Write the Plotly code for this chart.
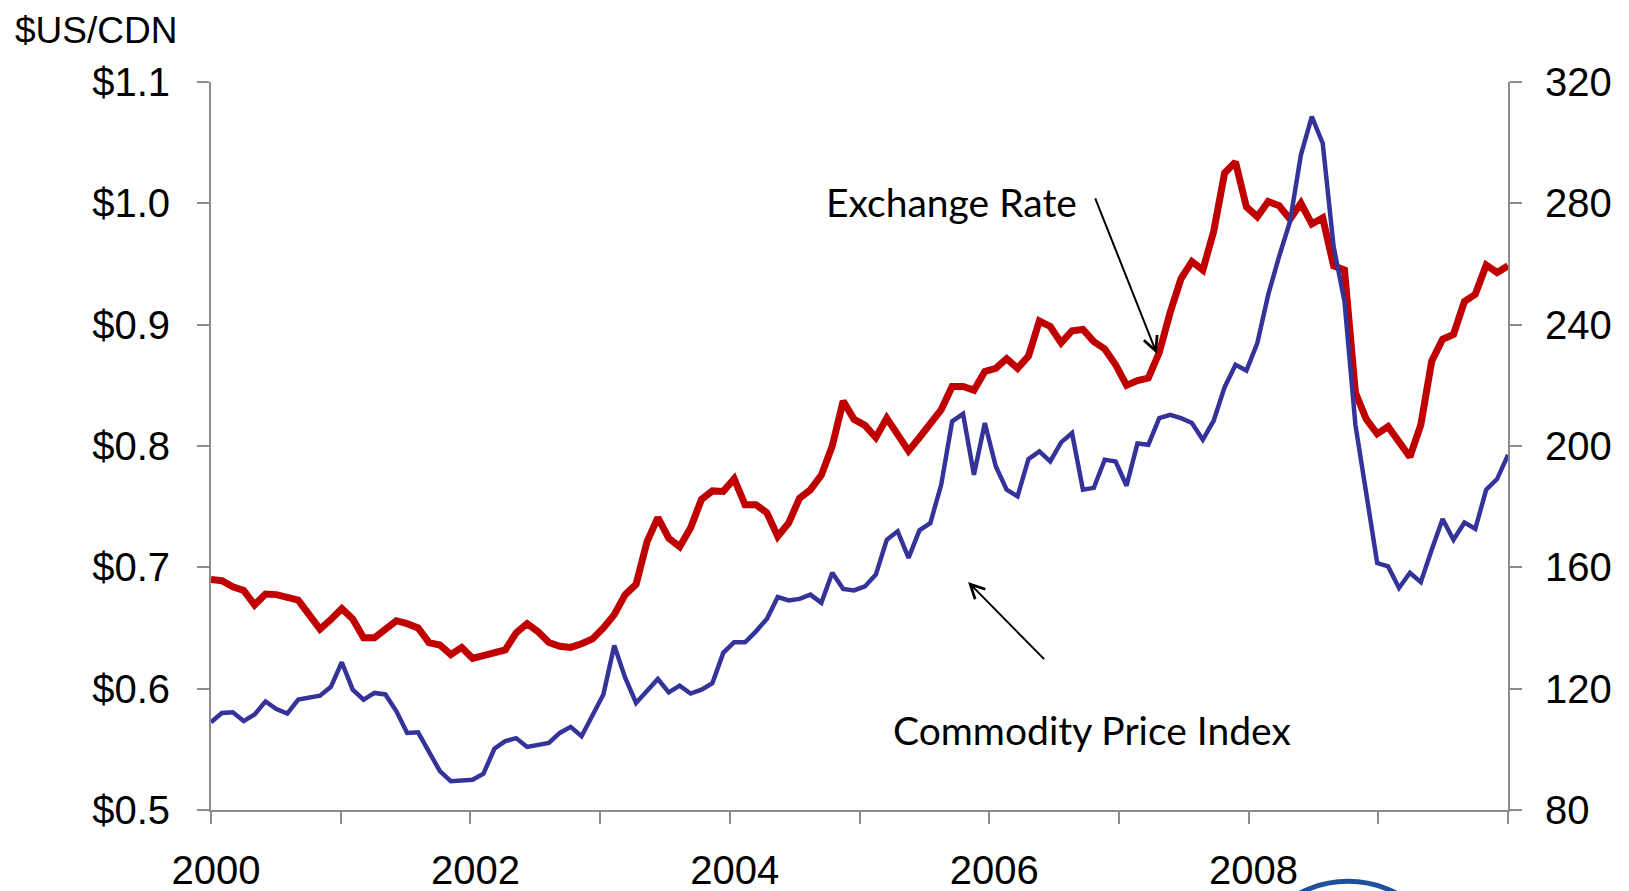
import plotly.graph_objects as go

# Monthly data, Jan 2000 - Dec 2009 (120 months)
exchange_rate = [
    0.690, 0.689, 0.684, 0.681, 0.669, 0.678, 0.6775, 0.675, 0.673, 0.661, 0.649, 0.657,
    0.666, 0.6575, 0.642, 0.642, 0.649, 0.656, 0.6536, 0.650, 0.638, 0.636, 0.628, 0.634,
    0.625, 0.627, 0.630, 0.632, 0.646, 0.6536, 0.647, 0.638, 0.635, 0.634, 0.637, 0.641,
    0.650, 0.661, 0.6775, 0.686, 0.721, 0.741, 0.724, 0.717, 0.7325, 0.756, 0.763, 0.7626,
    0.773, 0.7516, 0.7516, 0.745, 0.7255, 0.7366, 0.757, 0.764, 0.776, 0.800, 0.837, 0.822,
    0.817, 0.807, 0.823, 0.809, 0.796, 0.807, 0.8175, 0.830, 0.849, 0.849, 0.846, 0.8615,
    0.864, 0.872, 0.864, 0.874, 0.903, 0.8985, 0.885, 0.895, 0.896, 0.886, 0.880, 0.867,
    0.850, 0.854, 0.856, 0.877, 0.910, 0.938, 0.952, 0.945, 0.977, 1.025, 1.034, 0.997,
    0.989, 1.0015, 0.998, 0.987, 1.000, 0.983, 0.988, 0.9485, 0.945, 0.844, 0.822, 0.810,
    0.816, 0.8025, 0.791, 0.8175, 0.870, 0.888, 0.892, 0.919, 0.925, 0.949, 0.943, 0.9485,
]

commodity_index = [
    108.9, 112.0, 112.2, 109.3, 111.5, 115.8, 113.3, 111.8, 116.4, 117.0, 117.7, 120.6,
    128.7, 119.7, 116.4, 118.6, 118.1, 112.6, 105.4, 105.6, 99.0, 92.8, 89.5, 89.8,
    90.0, 92.0, 100.2, 102.7, 103.7, 100.8, 101.5, 102.1, 105.4, 107.4, 104.3, 111.5,
    118.1, 134.2, 123.6, 115.3, 119.1, 123.2, 118.8, 121.0, 118.4, 119.7, 121.8, 131.8,
    135.3, 135.3, 138.9, 143.0, 150.2, 149.1, 149.6, 151.0, 148.3, 158.2, 152.9, 152.4,
    153.7, 157.6, 169.1, 171.9, 163.1, 172.2, 174.6, 187.3, 208.1, 210.6, 190.5, 207.6,
    193.3, 185.6, 183.4, 195.7, 198.2, 194.9, 201.2, 204.3, 185.6, 186.2, 195.5, 194.9,
    186.9, 200.8, 200.4, 209.2, 210.3, 209.2, 207.6, 202.1, 208.4, 219.4, 226.8, 224.9,
    233.9, 249.9, 262.5, 274.0, 296.0, 308.6, 299.8, 265.8, 247.6, 207.0, 184.3, 161.4,
    160.3, 153.2, 158.2, 155.1, 165.8, 175.9, 169.1, 174.8, 172.7, 185.6, 189.1, 197.1,
]

year_ticks = list(range(2000, 2011))
year_labels = ["2000", "", "2002", "", "2004", "", "2006", "", "2008", "", ""]
left_ticks = [0.5, 0.6, 0.7, 0.8, 0.9, 1.0, 1.1]
right_ticks = [80, 120, 160, 200, 240, 280, 320]

n = len(exchange_rate)
x_vals = [2000 + i * 10 / (n - 1) for i in range(n)]

AXIS_GREY = "#8c8c8c"
TICK_FONT = dict(family="Liberation Sans, Arial, sans-serif", size=40, color="#000000")
NOTE_FONT = dict(family="Lato, Carlito, Calibri, sans-serif", size=39, color="#000000")

fig = go.Figure()
fig.add_trace(go.Scatter(
    x=x_vals, y=exchange_rate, mode="lines", name="Exchange Rate",
    line=dict(color="#c00000", width=7), yaxis="y", hoverinfo="skip",
))
fig.add_trace(go.Scatter(
    x=x_vals, y=commodity_index, mode="lines", name="Commodity Price Index",
    line=dict(color="#333399", width=4.5), yaxis="y2", hoverinfo="skip",
))

axis_common = dict(
    showline=True, linecolor=AXIS_GREY, linewidth=2, showgrid=False, zeroline=False,
    ticks="outside", ticklen=12, tickwidth=2, tickcolor=AXIS_GREY, tickfont=TICK_FONT,
    automargin=False,
)

# page body has an 8px margin, so the figure is 8px smaller than the window
fig.update_layout(
    width=1621, height=883,
    margin=dict(l=203, r=121, t=74, b=81, autoexpand=False),
    paper_bgcolor="white", plot_bgcolor="white",
    showlegend=False,
    xaxis=dict(range=[2000, 2010], tickmode="array", tickvals=year_ticks, ticktext=year_labels,
               ticklabelstandoff=12, ticklabelshift=5, **axis_common),
    yaxis=dict(range=[0.5, 1.1], tickmode="array", tickvals=left_ticks, tickformat="$.1f",
               ticklabelstandoff=19, **axis_common),
    yaxis2=dict(range=[80, 320], tickmode="array", tickvals=right_ticks, overlaying="y",
                side="right", ticklabelstandoff=15, **axis_common),
    annotations=[
        dict(text="$US/CDN", xref="paper", yref="paper", x=-0.153, y=1.071,
             xanchor="left", yanchor="middle", showarrow=False,
             font=dict(family="Liberation Sans, Arial, sans-serif", size=37, color="#000000")),
        dict(text="Exchange Rate", xref="x", yref="y", x=2005.711, y=1.0007,
             xanchor="center", yanchor="middle", showarrow=False, font=NOTE_FONT),
        dict(text="Commodity Price Index", xref="x", yref="y", x=2006.79, y=0.5663,
             xanchor="center", yanchor="middle", showarrow=False, font=NOTE_FONT),
        dict(text="", xref="x", yref="y", x=2007.293, y=0.876,
             axref="x", ayref="y", ax=2006.813, ay=1.0054,
             showarrow=True, arrowhead=5, arrowsize=1.4, arrowwidth=2, arrowcolor="#000000"),
        dict(text="", xref="x", yref="y", x=2005.837, y=0.688,
             axref="x", ayref="y", ax=2006.435, ay=0.6231,
             showarrow=True, arrowhead=5, arrowsize=1.4, arrowwidth=2, arrowcolor="#000000"),
    ],
    shapes=[
        dict(type="circle", xref="paper", yref="paper", x0=0.7957, x1=0.9576,
             y0=-0.3864, y1=-0.098, line=dict(color="#1d4f9a", width=5), layer="above"),
    ],
)

fig.write_html("out.html")
